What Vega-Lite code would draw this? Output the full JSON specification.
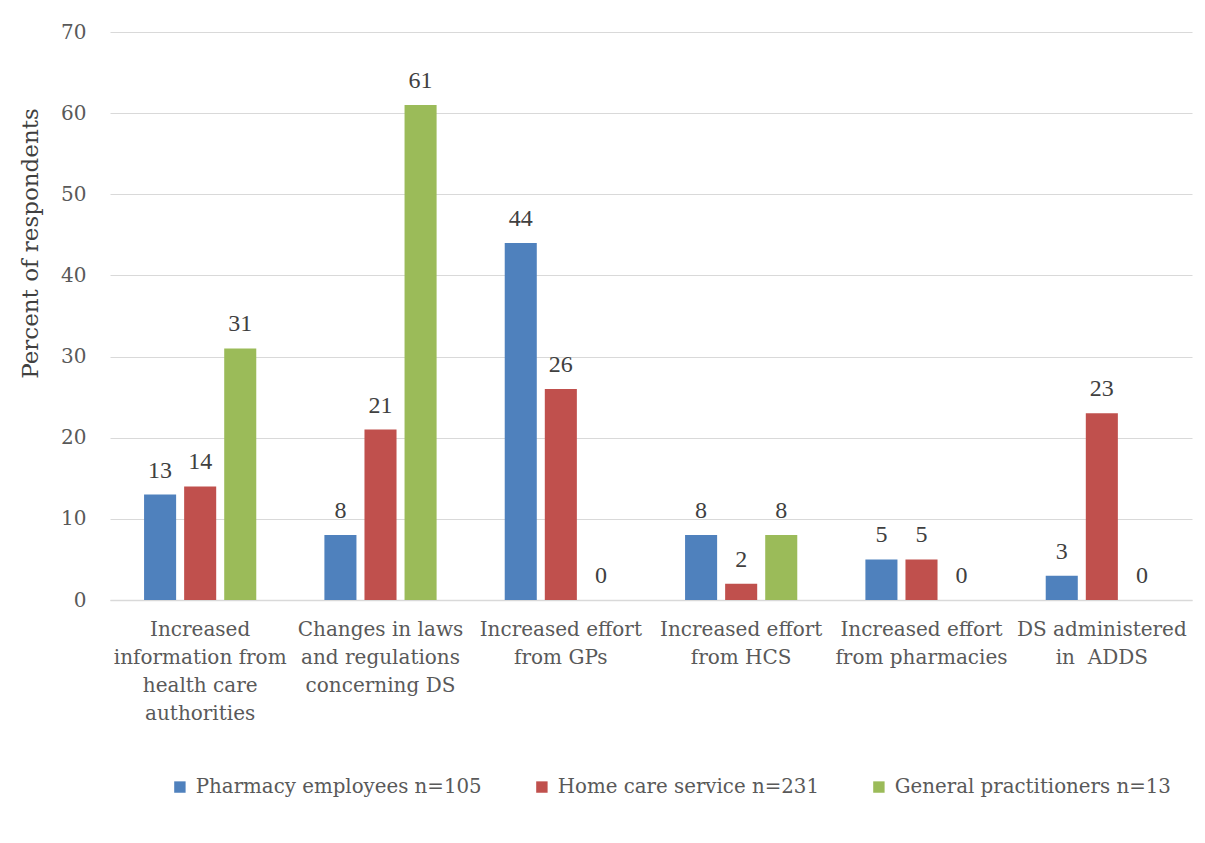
{
  "$schema": "https://vega.github.io/schema/vega-lite/v6.json",
  "width": 1082,
  "height": 568,
  "autosize": {"type": "none"},
  "padding": {"left": 110, "top": 32, "right": 13, "bottom": 243},
  "background": "white",
  "config": {
    "view": {"stroke": null},
    "font": "DejaVu Serif"
  },
  "data": {
    "values": [
      {"cat": "Increased|information from|health care|authorities", "group": "Pharmacy employees n=105", "value": 13},
      {"cat": "Increased|information from|health care|authorities", "group": "Home care service n=231", "value": 14},
      {"cat": "Increased|information from|health care|authorities", "group": "General practitioners n=13", "value": 31},
      {"cat": "Changes in laws|and regulations|concerning DS", "group": "Pharmacy employees n=105", "value": 8},
      {"cat": "Changes in laws|and regulations|concerning DS", "group": "Home care service n=231", "value": 21},
      {"cat": "Changes in laws|and regulations|concerning DS", "group": "General practitioners n=13", "value": 61},
      {"cat": "Increased effort|from GPs", "group": "Pharmacy employees n=105", "value": 44},
      {"cat": "Increased effort|from GPs", "group": "Home care service n=231", "value": 26},
      {"cat": "Increased effort|from GPs", "group": "General practitioners n=13", "value": 0},
      {"cat": "Increased effort|from HCS", "group": "Pharmacy employees n=105", "value": 8},
      {"cat": "Increased effort|from HCS", "group": "Home care service n=231", "value": 2},
      {"cat": "Increased effort|from HCS", "group": "General practitioners n=13", "value": 8},
      {"cat": "Increased effort|from pharmacies", "group": "Pharmacy employees n=105", "value": 5},
      {"cat": "Increased effort|from pharmacies", "group": "Home care service n=231", "value": 5},
      {"cat": "Increased effort|from pharmacies", "group": "General practitioners n=13", "value": 0},
      {"cat": "DS administered|in\u00a0\u00a0ADDS", "group": "Pharmacy employees n=105", "value": 3},
      {"cat": "DS administered|in\u00a0\u00a0ADDS", "group": "Home care service n=231", "value": 23},
      {"cat": "DS administered|in\u00a0\u00a0ADDS", "group": "General practitioners n=13", "value": 0}
    ]
  },
  "encoding": {
    "x": {
      "field": "cat",
      "type": "nominal",
      "sort": null,
      "scale": {"paddingInner": 0, "paddingOuter": 0},
      "axis": {
        "title": null,
        "labelAngle": 0,
        "labelExpr": "split(datum.value, '|')",
        "labelFont": "DejaVu Serif",
        "labelFontSize": 20,
        "labelColor": "#595959",
        "labelLineHeight": 28,
        "labelPadding": 19,
        "labelBaseline": "top",
        "labelLimit": 300,
        "labelOverlap": false,
        "ticks": false,
        "domainColor": "#d9d9d9",
        "domainWidth": 1.5,
        "grid": false
      }
    },
    "xOffset": {
      "field": "group",
      "type": "nominal",
      "sort": ["Pharmacy employees n=105", "Home care service n=231", "General practitioners n=13"],
      "scale": {"paddingInner": 0.2, "paddingOuter": 0.85}
    },
    "y": {
      "field": "value",
      "type": "quantitative",
      "scale": {"domain": [0, 70], "nice": false},
      "axis": {
        "title": "Percent of respondents",
        "titleFont": "DejaVu Serif",
        "titleFontSize": 23,
        "titleFontWeight": "normal",
        "titleColor": "#404040",
        "titlePadding": 18,
        "titleY": 211,
        "values": [0, 10, 20, 30, 40, 50, 60, 70],
        "labelOverlap": false,
        "labelFont": "DejaVu Serif",
        "labelFontSize": 20,
        "labelColor": "#595959",
        "labelPadding": 24,
        "ticks": false,
        "domain": false,
        "gridColor": "#d9d9d9",
        "gridWidth": 1.2
      }
    }
  },
  "layer": [
    {
      "mark": {"type": "bar"},
      "encoding": {
        "color": {
          "field": "group",
          "type": "nominal",
          "sort": ["Pharmacy employees n=105", "Home care service n=231", "General practitioners n=13"],
          "scale": {
            "domain": ["Pharmacy employees n=105", "Home care service n=231", "General practitioners n=13"],
            "range": ["#4f81bd", "#c0504d", "#9bbb59"]
          },
          "legend": {
            "title": null,
            "orient": "none",
            "direction": "horizontal",
            "legendX": 60,
            "legendY": 745,
            "symbolType": "square",
            "symbolSize": 130,
            "symbolStrokeWidth": 0,
            "labelFont": "DejaVu Serif",
            "labelFontSize": 19.8,
            "labelColor": "#595959",
            "labelLimit": 400,
            "labelOffset": 6,
            "columnPadding": 50
          }
        }
      }
    },
    {
      "mark": {"type": "text", "baseline": "alphabetic", "dy": -17, "font": "Liberation Serif", "fontSize": 24, "color": "#404040"},
      "encoding": {
        "text": {"field": "value", "type": "quantitative"}
      }
    }
  ]
}
